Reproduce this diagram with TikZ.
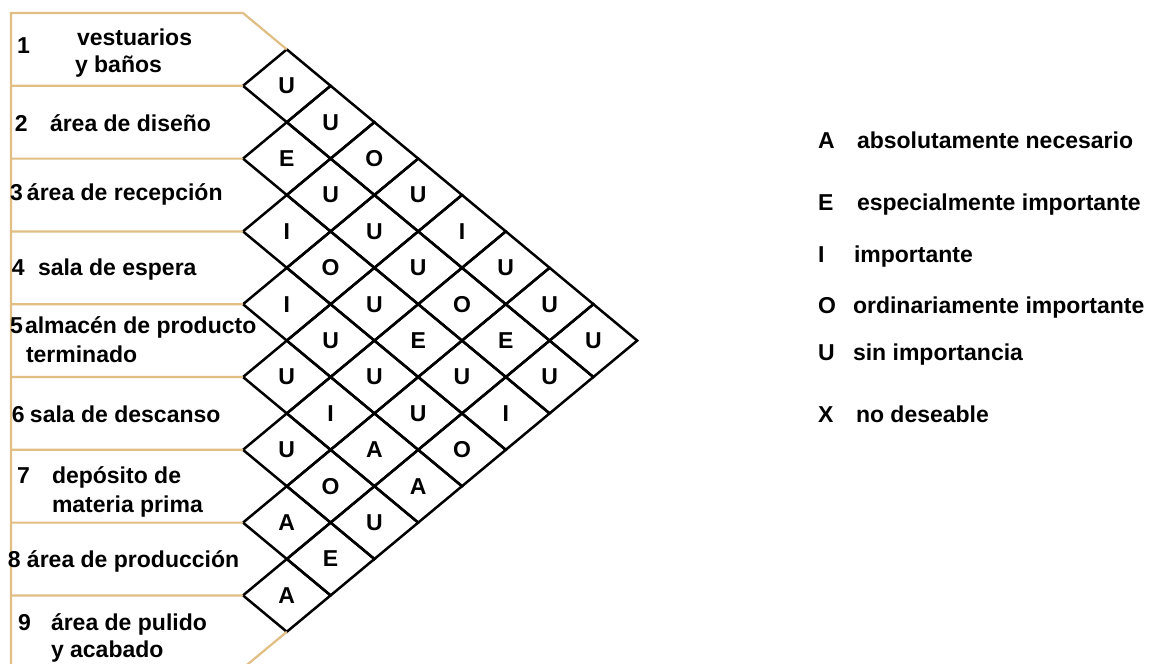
\documentclass[tikz,border=0pt]{standalone}
\usepackage{fontspec}
\setmainfont{Liberation Sans}
\usetikzlibrary{shapes.geometric}
\definecolor{tanline}{RGB}{224,190,132}
\begin{document}
\begin{tikzpicture}[x=1pt,y=-1pt,
  rel/.style={draw=black, diamond, minimum width=87.6pt, minimum height=72.8pt,
    inner sep=0pt, outer sep=0pt, line width=2.5pt, font=\bfseries\fontsize{23}{27}\selectfont},
  lbl/.style={anchor=base west, inner sep=0pt, outer sep=0pt, font=\bfseries\fontsize{23}{27}\selectfont},
  tanl/.style={draw=tanline, line width=2.2pt}]
\useasboundingbox (0,0) rectangle (1152,664);
\fill[white] (0,0) rectangle (1152,664);
% diamonds
\foreach \i/\j/\L in {1/2/U,2/3/E,3/4/I,4/5/I,5/6/U,6/7/U,7/8/A,8/9/A,
  1/3/U,2/4/U,3/5/O,4/6/U,5/7/I,6/8/O,7/9/E,
  1/4/O,2/5/U,3/6/U,4/7/U,5/8/A,6/9/U,
  1/5/U,2/6/U,3/7/E,4/8/U,5/9/A,
  1/6/I,2/7/O,3/8/U,4/9/O,
  1/7/U,2/8/E,3/9/I,
  1/8/U,2/9/U,
  1/9/U}{
  \pgfmathsetmacro\dx{243+43.8*(\j-\i)}
  \pgfmathsetmacro\dy{13+36.4*(\i+\j-1)}
  \node[rel] (d\i\j) at (\dx,\dy) {\L};
}
% tan frame
\coordinate (tl) at (11,13);
\coordinate (tr) at (243,13);
\coordinate (bl) at (11,700);
\coordinate (br) at (243,668.2);
\draw[tanl] (d12.north) -- (tr) -- (tl) -- (bl);
\draw[tanl] (d89.south) -- (br);
\foreach \k/\n in {1/12,2/23,3/34,4/45,5/56,6/67,7/78,8/89}{
  \coordinate (l\k) at (11,{13+72.8*\k});
  \draw[tanl] (l\k) -- (d\n.west);
}
% row labels
\node[lbl] (n1) at (17,53) {1};
\node[lbl] (r1a) at (77,45) {vestuarios};
\node[lbl] (r1b) at (75,72) {y baños};
\node[lbl] (n2) at (15,131) {2};
\node[lbl] (r2) at (50,131) {área de diseño};
\node[lbl] (n3) at (10,200) {3};
\node[lbl] (r3) at (27,200) {área de recepción};
\node[lbl] (n4) at (12,275) {4};
\node[lbl] (r4) at (38,275) {sala de espera};
\node[lbl] (n5) at (10,333) {5};
\node[lbl] (r5a) at (25,333) {almacén de producto};
\node[lbl] (r5b) at (26,362) {terminado};
\node[lbl] (n6) at (12,422) {6};
\node[lbl] (r6) at (30,422) {sala de descanso};
\node[lbl] (n7) at (17,483) {7};
\node[lbl] (r7a) at (52,483) {depósito de};
\node[lbl] (r7b) at (52,512) {materia prima};
\node[lbl] (n8) at (8,567) {8};
\node[lbl] (r8) at (27,567) {área de producción};
\node[lbl] (n9) at (18,630) {9};
\node[lbl] (r9a) at (51,630) {área de pulido};
\node[lbl] (r9b) at (51,657) {y acabado};
% legend
\node[lbl] (kA) at (818,148) {A};
\node[lbl] (tA) at (857,148) {absolutamente necesario};
\node[lbl] (kE) at (818,210) {E};
\node[lbl] (tE) at (857,210) {especialmente importante};
\node[lbl] (kI) at (818,262) {I};
\node[lbl] (tI) at (854,262) {importante};
\node[lbl] (kO) at (818,313) {O};
\node[lbl] (tO) at (853,313) {ordinariamente importante};
\node[lbl] (kU) at (818,360) {U};
\node[lbl] (tU) at (853,360) {sin importancia};
\node[lbl] (kX) at (818,422) {X};
\node[lbl] (tX) at (856,422) {no deseable};
\end{tikzpicture}
\end{document}
